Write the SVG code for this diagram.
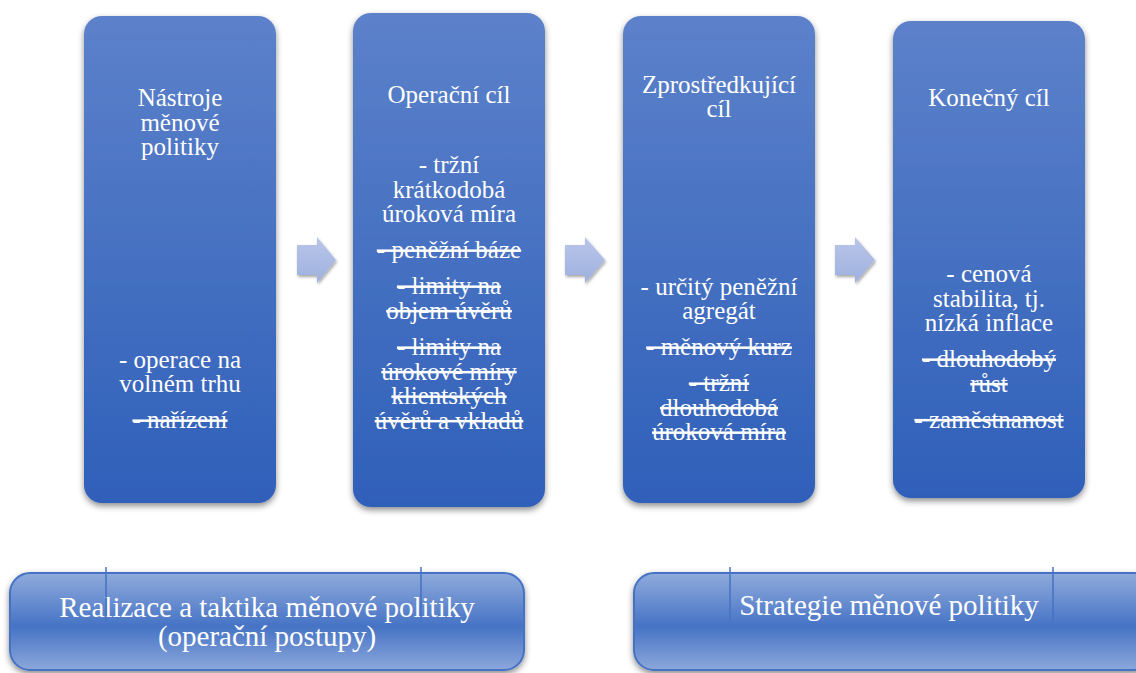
<svg xmlns="http://www.w3.org/2000/svg" width="1136" height="673" viewBox="0 0 1136 673">
<defs>
<linearGradient id="gBox" x1="0" y1="0" x2="0" y2="1">
<stop offset="0" stop-color="#5c81ca"/>
<stop offset="1" stop-color="#2f60b9"/>
</linearGradient>
<linearGradient id="gArrow" x1="0" y1="0" x2="0" y2="1">
<stop offset="0" stop-color="#b9c6e8"/>
<stop offset="1" stop-color="#9db0de"/>
</linearGradient>
<linearGradient id="gBar" x1="0" y1="0" x2="0" y2="1">
<stop offset="0" stop-color="#90abdc"/>
<stop offset="0.55" stop-color="#4673c5"/>
<stop offset="1" stop-color="#8ca8db"/>
</linearGradient>
<filter id="sh" x="-20%" y="-10%" width="140%" height="125%">
<feDropShadow dx="0" dy="3" stdDeviation="3" flood-color="#000" flood-opacity="0.45"/>
</filter>
<filter id="shA" x="-30%" y="-30%" width="160%" height="160%">
<feDropShadow dx="1" dy="2" stdDeviation="1.5" flood-color="#000" flood-opacity="0.35"/>
</filter>
</defs>
<style>
.box{fill:url(#gBox);filter:url(#sh);}
.bar{fill:url(#gBar);stroke:#4472c4;stroke-width:2;filter:url(#sh);}
.arr{fill:url(#gArrow);filter:url(#shA);}
text{font-family:'Liberation Serif','Times New Roman',serif;fill:#fff;text-anchor:middle;}
.t{font-size:25px;}
.b{font-size:29px;}
.s{text-decoration:line-through;}
.tick{stroke:#4472c4;stroke-width:1.5;}
</style>
<rect width="1136" height="673" fill="#fff"/>

<g id="node-nastroje">
<rect class="box" x="84" y="16" width="192" height="487" rx="18"/>
<text class="t" x="180" y="106">Nástroje</text>
<text class="t" x="180" y="130.5">měnové</text>
<text class="t" x="180" y="155">politiky</text>
<text class="t" x="180" y="367.5">- operace na</text>
<text class="t" x="180" y="392">volném trhu</text>
<text class="t s" x="180" y="428">- nařízení</text>
</g>

<g id="node-operacni">
<rect class="box" x="353" y="13" width="192" height="494" rx="18"/>
<text class="t" x="449" y="102.5">Operační cíl</text>
<text class="t" x="449" y="173">- tržní</text>
<text class="t" x="449" y="197.5">krátkodobá</text>
<text class="t" x="449" y="222">úroková míra</text>
<text class="t s" x="449" y="258">- peněžní báze</text>
<text class="t s" x="449" y="294">- limity na</text>
<text class="t s" x="449" y="318.5">objem úvěrů</text>
<text class="t s" x="449" y="355">- limity na</text>
<text class="t s" x="449" y="379.5">úrokové míry</text>
<text class="t s" x="449" y="404">klientských</text>
<text class="t s" x="449" y="428.5">úvěrů a vkladů</text>
</g>

<g id="node-zprostredkujici">
<rect class="box" x="623" y="16" width="192" height="487" rx="18"/>
<text class="t" x="719" y="92.5">Zprostředkující</text>
<text class="t" x="719" y="117">cíl</text>
<text class="t" x="719" y="294.5">- určitý peněžní</text>
<text class="t" x="719" y="319">agregát</text>
<text class="t s" x="719" y="355">- měnový kurz</text>
<text class="t s" x="719" y="391">- tržní</text>
<text class="t s" x="719" y="415.5">dlouhodobá</text>
<text class="t s" x="719" y="440">úroková míra</text>
</g>

<g id="node-konecny">
<rect class="box" x="893" y="21" width="192" height="477" rx="18"/>
<text class="t" x="989" y="106">Konečný cíl</text>
<text class="t" x="989" y="282">- cenová</text>
<text class="t" x="989" y="306.5">stabilita, tj.</text>
<text class="t" x="989" y="331">nízká inflace</text>
<text class="t s" x="989" y="367">- dlouhodobý</text>
<text class="t s" x="989" y="391.5">růst</text>
<text class="t s" x="989" y="427.5">- zaměstnanost</text>
</g>

<g id="connectors">
<polygon class="arr" points="297,245 317,245 317,237 336,260 317,283 317,275 297,275"/>
<polygon class="arr" points="565,245 585,245 585,237 605,260 585,283 585,275 565,275"/>
<polygon class="arr" points="835,245 855,245 855,237 875,260 855,283 855,275 835,275"/>
</g>

<g id="node-realizace">
<rect class="bar" x="10" y="573" width="514" height="97" rx="20"/>
<text class="b" x="267" y="617">Realizace a taktika měnové politiky</text>
<text class="b" x="267" y="646">(operační postupy)</text>
</g>

<g id="node-strategie">
<rect class="bar" x="634" y="573" width="520" height="97" rx="20"/>
<text class="b" x="889" y="615">Strategie měnové politiky</text>
</g>

<g id="ticks">
<line class="tick" x1="106" y1="567" x2="106" y2="622"/>
<line class="tick" x1="421" y1="567" x2="421" y2="622"/>
<line class="tick" x1="730" y1="567" x2="730" y2="622"/>
<line class="tick" x1="1053" y1="567" x2="1053" y2="622"/>
</g>
</svg>
